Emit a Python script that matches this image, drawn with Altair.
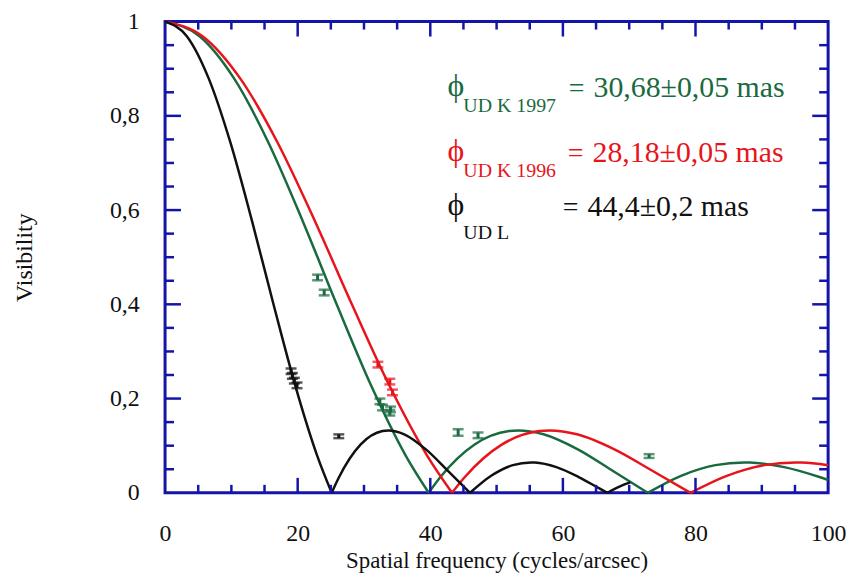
import altair as alt
import pandas as pd

# ---- model curves, split at the nulls ----
green_f = [0, 5.19, 10.38, 15.56, 20.75, 25.94, 31.13, 36.31, 39.76,
           39.76, 41.50, 46.69, 51.88, 53.28, 57.07, 62.25, 67.44, 72.79,
           72.79, 77.82, 83.00, 87.33, 88.19, 93.38, 98.57, 100]
green_v = [1, 0.969, 0.880, 0.744, 0.577, 0.398, 0.226, 0.0785, 0,
           0, 0.033, 0.1027, 0.131, 0.1323, 0.1242, 0.0922, 0.0473, 0,
           0, 0.0361, 0.0587, 0.0645, 0.0643, 0.0545, 0.034, 0.0272]
green_seg = [0] * 9 + [1] * 9 + [2] * 8

red_f = [0, 5.65, 11.30, 16.94, 22.59, 28.24, 33.89, 39.54, 43.28,
         43.28, 45.18, 50.83, 56.48, 58.01, 62.13, 67.77, 73.42, 79.25,
         79.25, 84.72, 90.37, 95.08, 96.01, 100]
red_v = [1, 0.969, 0.880, 0.744, 0.577, 0.398, 0.226, 0.0785, 0,
         0, 0.033, 0.1027, 0.131, 0.1323, 0.1242, 0.0922, 0.0473, 0,
         0, 0.0361, 0.0587, 0.0645, 0.0643, 0.0586]
red_seg = [0] * 9 + [1] * 9 + [2] * 6

black_f = [0, 3.28, 6.56, 9.84, 13.11, 16.39, 19.67, 22.95, 25.13,
           25.13, 26.23, 29.51, 32.79, 33.68, 36.07, 39.34, 42.62, 46.00,
           46.00, 49.18, 52.46, 55.19, 55.74, 59.02, 62.30, 65.57, 66.71,
           66.71, 68.85, 70.16]
black_v = [1, 0.969, 0.880, 0.744, 0.577, 0.398, 0.226, 0.0785, 0,
           0, 0.033, 0.1027, 0.131, 0.1323, 0.1242, 0.0922, 0.0473, 0,
           0, 0.0361, 0.0587, 0.0645, 0.0643, 0.0545, 0.034, 0.0087, 0,
           0, 0.015, 0.022]
black_seg = [0] * 9 + [1] * 9 + [2] * 9 + [3] * 3

# ---- measurements with error bars ----
green_pf = [23.0, 24.0, 32.4, 32.8, 34.0, 33.9, 44.2, 47.2, 73.0]
green_pv = [0.457, 0.425, 0.194, 0.181, 0.177, 0.170, 0.128, 0.122, 0.078]
green_pe = [0.006, 0.006, 0.006, 0.006, 0.006, 0.006, 0.007, 0.006, 0.004]
red_pf = [32.1, 33.9, 34.3]
red_pv = [0.272, 0.236, 0.213]
red_pe = [0.006, 0.006, 0.006]
black_pf = [19.0, 19.2, 19.5, 19.9, 26.2]
black_pv = [0.258, 0.248, 0.238, 0.228, 0.120]
black_pe = [0.006, 0.006, 0.006, 0.006, 0.004]

# ---- axis ticks ----
x_labels = [0, 20, 40, 60, 80, 100]
y_labels = [0, 0.2, 0.4, 0.6, 0.8, 1]
x_major = [20, 40, 60, 80]
x_minor = [5, 10, 15, 25, 30, 35, 45, 50, 55, 65, 70, 75, 85, 90, 95]
y_major = [0.2, 0.4, 0.6, 0.8]
y_minor = [0.05, 0.1, 0.15, 0.25, 0.3, 0.35, 0.45, 0.5, 0.55, 0.65, 0.7,
           0.75, 0.85, 0.9, 0.95]

curve_names = ["K1997", "K1996", "L"]
curve_colors = ["#1a6a40", "#e8141c", "#111111"]

W, H = 667, 474
BLUE = "#1414a8"
FONT = "Liberation Serif"

rows = []
for name, fs, vs, ss in [("K1997", green_f, green_v, green_seg),
                         ("K1996", red_f, red_v, red_seg),
                         ("L", black_f, black_v, black_seg)]:
    for f, v, s in zip(fs, vs, ss):
        rows.append({"curve": name, "seg": s, "f": f, "v": v})
curves = pd.DataFrame(rows)

prow = []
for name, fs, vs, es in [("K1997", green_pf, green_pv, green_pe),
                         ("K1996", red_pf, red_pv, red_pe),
                         ("L", black_pf, black_pv, black_pe)]:
    for f, v, e in zip(fs, vs, es):
        prow.append({"curve": name, "f": f, "v": v, "e": e})
points = pd.DataFrame(prow)

xs = alt.Scale(domain=[0, 100], nice=False, zero=False)
ys = alt.Scale(domain=[0, 1], nice=False, zero=False)
cs = alt.Scale(domain=curve_names, range=curve_colors)

x_axis = alt.Axis(values=x_labels, ticks=False, tickSize=0, domain=False, grid=False,
                  labelFlush=False, labelOverlap=False, labelPadding=29,
                  labelFont=FONT, labelFontSize=24, labelColor="#111",
                  title="Spatial frequency (cycles/arcsec)", titleFont=FONT,
                  titleFontSize=23, titleFontWeight="normal", titleColor="#111",
                  titleX=W / 2, titleY=75, titleBaseline="alphabetic",
                  titleAnchor="middle", titleAlign="center")
y_axis = alt.Axis(values=y_labels, ticks=False, tickSize=0, domain=False, grid=False,
                  labelFlush=False, labelOverlap=False, labelPadding=26,
                  labelFont=FONT, labelFontSize=24, labelColor="#111",
                  labelExpr="datum.value == 0 ? '0' : datum.value == 1 ? '1' : replace(format(datum.value, '.1f'), '.', ',')",
                  title="Visibility", titleFont=FONT, titleFontSize=24,
                  titleFontWeight="normal", titleColor="#111",
                  titleX=-141, titleY=H / 2, titleAngle=-90,
                  titleAlign="center", titleBaseline="middle")

X = lambda field: alt.X(field, scale=xs, axis=x_axis)
Y = lambda field: alt.Y(field, scale=ys, axis=y_axis)
C = alt.Color("curve:N", scale=cs, legend=None)

lines = alt.Chart(curves).mark_line(interpolate="monotone", strokeWidth=2.5).encode(
    x=X("f:Q"), y=Y("v:Q"), color=C, detail="seg:N")

pbase = alt.Chart(points).transform_calculate(
    lo="datum.v - datum.e", hi="datum.v + datum.e")
bars = pbase.mark_rule(strokeWidth=3).encode(x=X("f:Q"), y=Y("lo:Q"), y2="hi:Q", color=C)
cap_lo = pbase.mark_tick(orient="horizontal", size=11, thickness=2.5).encode(
    x=X("f:Q"), y=Y("lo:Q"), color=C)
cap_hi = pbase.mark_tick(orient="horizontal", size=11, thickness=2.5).encode(
    x=X("f:Q"), y=Y("hi:Q"), color=C)


def xticks(vals, length):
    d = pd.DataFrame({"f": vals})
    b = alt.Chart(d).mark_rule(color=BLUE, strokeWidth=2.5).encode(
        x=X("f:Q"), y=alt.value(H), y2=alt.value(H - length))
    t = alt.Chart(d).mark_rule(color=BLUE, strokeWidth=2.5).encode(
        x=X("f:Q"), y=alt.value(0), y2=alt.value(length))
    return [b, t]


def yticks(vals, length):
    d = pd.DataFrame({"v": vals})
    l = alt.Chart(d).mark_rule(color=BLUE, strokeWidth=2.5).encode(
        y=Y("v:Q"), x=alt.value(0), x2=alt.value(length))
    r = alt.Chart(d).mark_rule(color=BLUE, strokeWidth=2.5).encode(
        y=Y("v:Q"), x=alt.value(W), x2=alt.value(W - length))
    return [l, r]


one = pd.DataFrame({"a": [0]})


def label(text, x, y, size, color):
    return alt.Chart(one).mark_text(text=text, font=FONT, fontSize=size, color=color,
                                    align="left", baseline="alphabetic").encode(
        x=alt.value(x), y=alt.value(y))


# text positions are in plot-area pixels (origin at the plot's top-left corner)
texts = [
    label("ϕ", 284, 75, 32, curve_colors[0]),
    label("UD K 1997", 300, 91, 20, curve_colors[0]),
    label("=", 406, 76, 28, curve_colors[0]),
    label("30,68±0,05 mas", 431, 76, 30, curve_colors[0]),
    label("ϕ", 284, 140, 32, curve_colors[1]),
    label("UD K 1996", 300, 156, 20, curve_colors[1]),
    label("=", 405, 141, 28, curve_colors[1]),
    label("28,18±0,05 mas", 430, 141, 30, curve_colors[1]),
    label("ϕ", 284, 195, 32, curve_colors[2]),
    label("UD L", 300, 219, 20, curve_colors[2]),
    label("=", 400, 196, 28, curve_colors[2]),
    label("44,4±0,2 mas", 425, 196, 30, curve_colors[2]),
]

layers = [lines, bars, cap_lo, cap_hi]
layers += xticks(x_major, 15) + xticks(x_minor, 8)
layers += yticks(y_major, 16) + yticks(y_minor, 9)
layers += texts

chart = alt.layer(*layers).properties(
    width=W, height=H,
    autosize=alt.AutoSizeParams(type="none"),
    padding={"left": 158, "top": 12, "right": 20, "bottom": 80},
    background="white",
).configure_view(stroke=BLUE, strokeWidth=3)

chart.save("out.html", embed_options={"renderer": "svg", "actions": False})
